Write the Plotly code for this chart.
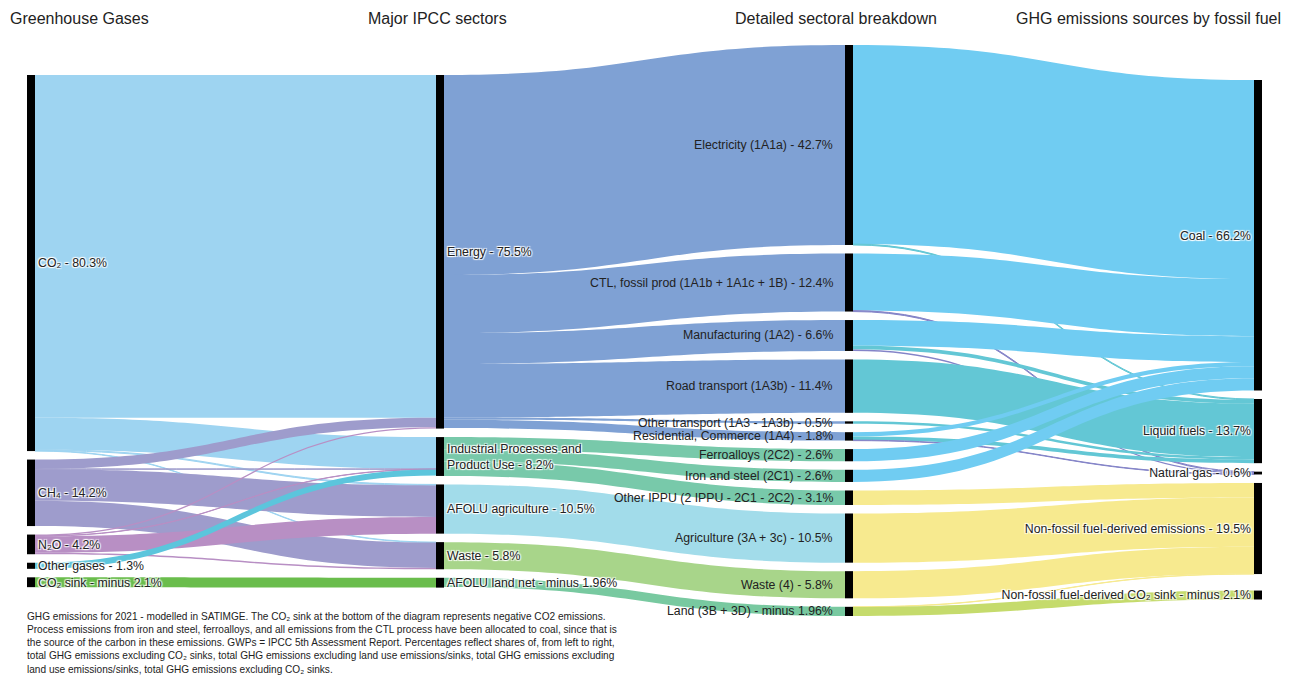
import plotly.graph_objects as go

# Node labels, one list per column (top to bottom)
gases = [
    "CO₂ - 80.3%",
    "CH₄ - 14.2%",
    "N₂O - 4.2%",
    "Other gases - 1.3%",
    "CO₂ sink - minus 2.1%",
]
sectors = [
    "Energy - 75.5%",
    "Industrial Processes and<br>Product Use - 8.2%",
    "AFOLU agriculture - 10.5%",
    "Waste - 5.8%",
    "AFOLU land net - minus 1.96%",
]
details = [
    "Electricity (1A1a) - 42.7%",
    "CTL, fossil prod (1A1b + 1A1c + 1B) - 12.4%",
    "Manufacturing (1A2) - 6.6%",
    "Road transport (1A3b) - 11.4%",
    "Other transport (1A3 - 1A3b) - 0.5%",
    "Residential, Commerce (1A4) - 1.8%",
    "Ferroalloys (2C2) - 2.6%",
    "Iron and steel (2C1) - 2.6%",
    "Other IPPU (2 IPPU - 2C1 - 2C2) - 3.1%",
    "Agriculture (3A + 3c) - 10.5%",
    "Waste (4) - 5.8%",
    "Land (3B + 3D) - minus 1.96%",
]
fuels = [
    "Coal - 66.2%",
    "Liquid fuels - 13.7%",
    "Natural gas - 0.6%",
    "Non-fossil fuel-derived emissions - 19.5%",
    "Non-fossil fuel-derived CO₂ sink - minus 2.1%",
]

# gas -> IPCC sector flows (share of total, %)
gas_src = [0, 0, 0, 0, 1, 1, 1, 1, 2, 2, 2, 2, 3, 4]
gas_dst = [0, 1, 2, 3, 0, 1, 2, 3, 0, 1, 2, 3, 1, 4]
gas_val = [73.2, 6.8, 0.2, 0.1, 2.0, 0.05, 6.75, 5.4, 0.3, 0.05, 3.55, 0.3, 1.3, 2.1]

# IPCC sector -> detailed sector flows
sector_src = [0, 0, 0, 0, 0, 0, 1, 1, 1, 2, 3, 4]
sector_dst = [0, 1, 2, 3, 4, 5, 6, 7, 8, 9, 10, 11]
sector_val = [42.7, 12.4, 6.6, 11.4, 0.5, 1.8, 2.6, 2.6, 3.1, 10.5, 5.8, 1.96]

# detailed sector -> fuel flows
detail_src = [0, 0, 1, 1, 2, 2, 2, 3, 4, 5, 5, 5, 6, 7, 8, 9, 10, 11, 11]
detail_dst = [0, 1, 0, 2, 0, 1, 2, 1, 1, 0, 1, 2, 0, 0, 3, 3, 3, 3, 4]
detail_val = [42.5, 0.2, 12.2, 0.2, 5.5, 0.8, 0.3, 11.4, 0.5, 0.9, 0.8, 0.1,
              2.6, 2.6, 3.1, 10.5, 5.8, 0.05, 1.91]

headers = [
    "Greenhouse Gases",
    "Major IPCC sectors",
    "Detailed sectoral breakdown",
    "GHG emissions sources by fossil fuel",
]

footnote = (
    "GHG emissions for 2021 - modelled in SATIMGE. The CO₂ sink at the bottom of the diagram "
    "represents negative CO2 emissions.<br>"
    "Process emissions from iron and steel, ferroalloys, and all emissions from the CTL process "
    "have been allocated to coal, since that is<br>"
    "the source of the carbon in these emissions. GWPs = IPCC 5th Assessment Report. Percentages "
    "reflect shares of, from left to right,<br>"
    "total GHG emissions excluding CO₂ sinks, total GHG emissions excluding land use emissions/sinks, "
    "total GHG emissions excluding<br>"
    "land use emissions/sinks, total GHG emissions excluding CO₂ sinks."
)

# styling
gas_colors = ["#9ED4F1", "#9E9CCC", "#B88FC4", "#5CC5DC", "#6ABD4C"]
sector_colors = ["#7FA1D4", "#78C9AA", "#A2DCEA", "#A8D58A", "#78C9A0"]
fuel_colors = ["#70CCF2", "#63C7D5", "#8484C8", "#F7EA8F", "#C5DB6C"]
FONT = "Arial, Liberation Sans, sans-serif"
TEXT_COLOR = "#222"
LABEL_SIZE = 12.3

W, H = 1285, 670            # figure size (page body adds 8px margin)
DOM_L, DOM_R = 19, 1254     # sankey domain in figure pixels
DOM_T, DOM_B = 37, 608
THICK, PAD = 8, 8.5
col_top = [30, 30, 0, 35]   # where each column starts below the domain top (px)

columns = [gases, sectors, details, fuels]
offsets = [0]
for col in columns[:-1]:
    offsets.append(offsets[-1] + len(col))
extra_gap = {offsets[3] + 4: 8}   # the sink sits a bit lower in the last column

source = gas_src + [s + offsets[1] for s in sector_src] + [s + offsets[2] for s in detail_src]
target = ([t + offsets[1] for t in gas_dst] + [t + offsets[2] for t in sector_dst]
          + [t + offsets[3] for t in detail_dst])
value = gas_val + sector_val + detail_val
link_color = ([gas_colors[s] for s in gas_src]
              + [sector_colors[s] for s in sector_src]
              + [fuel_colors[t] for t in detail_dst])
# the detailed column is labelled on its left side with annotations below
labels = gases + sectors + [""] * len(details) + fuels

# node sizes as the library computes them: max(inflow, outflow)
n_nodes = len(labels)
inflow = [0.0] * n_nodes
outflow = [0.0] * n_nodes
for s, t, v in zip(source, target, value):
    outflow[s] += v
    inflow[t] += v
size = [max(a, b) for a, b in zip(inflow, outflow)]

dom_w = DOM_R - DOM_L
dom_h = DOM_B - DOM_T
col_sizes = [size[o:o + len(c)] for o, c in zip(offsets, columns)]
ky = min((dom_h - PAD * (len(cs) - 1)) / sum(cs) for cs in col_sizes)

node_x, node_y = [], []
for k, cs in enumerate(col_sizes):
    cx = (THICK / 2 + k * (dom_w - THICK) / (len(columns) - 1)) / dom_w
    y = col_top[k]
    for i, v in enumerate(cs):
        y += extra_gap.get(offsets[k] + i, 0)
        h = v * ky
        node_x.append(cx)
        node_y.append((y + h / 2) / dom_h)
        y += h + PAD

fig = go.Figure(
    go.Sankey(
        arrangement="snap",
        domain=dict(x=[DOM_L / W, DOM_R / W], y=[1 - DOM_B / H, 1 - DOM_T / H]),
        node=dict(
            label=labels,
            customdata=gases + sectors + details + fuels,
            hovertemplate="%{customdata}<extra></extra>",
            x=node_x,
            y=node_y,
            color="black",
            thickness=THICK,
            pad=PAD,
            line=dict(width=0),
        ),
        link=dict(source=source, target=target, value=value, color=link_color),
        textfont=dict(family=FONT, size=LABEL_SIZE, color=TEXT_COLOR),
    )
)

# labels of the detailed column, right-aligned against the left edge of each node
for i, text in enumerate(details):
    n = offsets[2] + i
    x_px = DOM_L + node_x[n] * dom_w - THICK / 2 - 10
    y_px = DOM_T + node_y[n] * dom_h
    fig.add_annotation(
        text=text, x=x_px / W, y=1 - y_px / H, xref="paper", yref="paper",
        xanchor="right", yanchor="middle", showarrow=False,
        font=dict(family=FONT, size=LABEL_SIZE, color=TEXT_COLOR),
    )

header_x = [0, 358, 725, 1006]
for text, x in zip(headers, header_x):
    fig.add_annotation(
        text=text, x=x / W, y=1 - 10 / H, xref="paper", yref="paper",
        xanchor="left", yanchor="middle", showarrow=False,
        font=dict(family=FONT, size=16, color=TEXT_COLOR),
    )

fig.add_annotation(
    text=footnote, x=17 / W, y=1 - 601 / H, xref="paper", yref="paper",
    xanchor="left", yanchor="top", align="left", showarrow=False,
    font=dict(family=FONT, size=10.1, color=TEXT_COLOR),
)

fig.update_layout(
    width=W,
    height=H,
    margin=dict(l=0, r=0, t=0, b=0),
    paper_bgcolor="white",
    plot_bgcolor="white",
)

fig.write_html("out.html")
